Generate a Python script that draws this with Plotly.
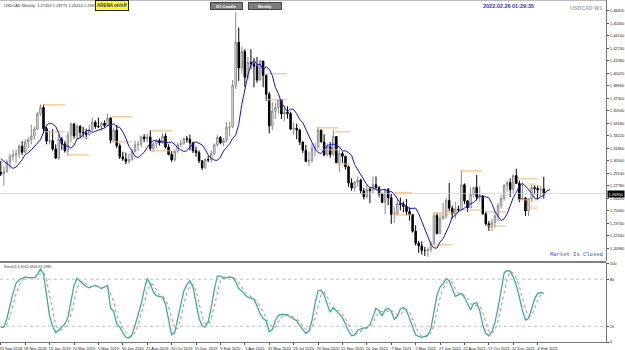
import plotly.graph_objects as go
import pandas as pd

# ---------------- data ----------------
# weekly bars; index 0 = week of 23 Sep 2018 (negative = earlier weeks, off-screen)
bar_index = list(range(-6, 179))
opens = [1.3055, 1.3075, 1.3030, 1.3055, 1.3175, 1.3035,
 1.2925, 1.2910, 1.2935, 1.3040, 1.3100, 1.3115, 1.3125, 1.3210, 1.3145, 1.3255,
 1.3280, 1.3320, 1.3395, 1.3560, 1.3630, 1.3400, 1.3265, 1.3270, 1.3180, 1.3080,
 1.3285, 1.3235, 1.3160, 1.3330, 1.3450, 1.3320, 1.3425, 1.3360, 1.3355, 1.3335,
 1.3390, 1.3470, 1.3425, 1.3420, 1.3460, 1.3435, 1.3515, 1.3275, 1.3385, 1.3215,
 1.3095, 1.3070, 1.3045, 1.3065, 1.3155, 1.3225, 1.3230, 1.3310, 1.3290, 1.3310,
 1.3185, 1.3235, 1.3270, 1.3245, 1.3320, 1.3200, 1.3120, 1.3060, 1.3155, 1.3225,
 1.3240, 1.3290, 1.3285, 1.3245, 1.3160, 1.3140, 1.3050, 1.2975, 1.3065, 1.3060,
 1.3130, 1.3225, 1.3305, 1.3245, 1.3275, 1.3415, 1.3420, 1.3870, 1.4340, 1.4060,
 1.4240, 1.3960, 1.4120, 1.4105, 1.4080, 1.3930, 1.4135, 1.3980, 1.3775, 1.3430,
 1.3590, 1.3630, 1.3715, 1.3560, 1.3580, 1.3565, 1.3395, 1.3405, 1.3385, 1.3255,
 1.3165, 1.3045, 1.3055, 1.3185, 1.3200, 1.3385, 1.3255, 1.3115, 1.3205, 1.3120,
 1.3315, 1.3030, 1.3130, 1.3100, 1.2985, 1.2810, 1.2755, 1.2820, 1.2840, 1.2725,
 1.2660, 1.2740, 1.2725, 1.2790, 1.2760, 1.2690, 1.2600, 1.2740, 1.2650, 1.2470,
 1.2475, 1.2585, 1.2575, 1.2555, 1.2500, 1.2465, 1.2285, 1.2155, 1.2125, 1.2075,
 1.2075, 1.2085, 1.2150, 1.2455, 1.2260, 1.2420, 1.2450, 1.2620, 1.2535, 1.2475,
 1.2525, 1.2520, 1.2790, 1.2615, 1.2540, 1.2685, 1.2760, 1.2655, 1.2665, 1.2475,
 1.2365, 1.2335, 1.2380, 1.2450, 1.2565, 1.2640, 1.2780, 1.2815, 1.2740, 1.2890,
 1.2805, 1.2630, 1.2645, 1.2505, 1.2640, 1.2760, 1.2750, 1.2735, 1.27459]
highs = [1.3170, 1.3110, 1.3125, 1.3225, 1.3190, 1.3045,
 1.3050, 1.2990, 1.3065, 1.3130, 1.3170, 1.3175, 1.3230, 1.3265, 1.3285, 1.3310,
 1.3445, 1.3425, 1.3580, 1.3665, 1.3665, 1.3420, 1.3380, 1.3395, 1.3230, 1.3340,
 1.3310, 1.3265, 1.3370, 1.3470, 1.3465, 1.3450, 1.3440, 1.3420, 1.3400, 1.3440,
 1.3520, 1.3490, 1.3520, 1.3475, 1.3490, 1.3565, 1.3525, 1.3410, 1.3440, 1.3240,
 1.3150, 1.3140, 1.3130, 1.3180, 1.3270, 1.3270, 1.3325, 1.3340, 1.3345, 1.3385,
 1.3260, 1.3290, 1.3295, 1.3350, 1.3350, 1.3230, 1.3160, 1.3175, 1.3250, 1.3280,
 1.3305, 1.3320, 1.3335, 1.3260, 1.3205, 1.3165, 1.3060, 1.3080, 1.3105, 1.3165,
 1.3240, 1.3330, 1.3320, 1.3300, 1.3470, 1.3475, 1.3930, 1.4667, 1.4500, 1.4295,
 1.4265, 1.4180, 1.4265, 1.4170, 1.4180, 1.4150, 1.4140, 1.3990, 1.3800, 1.3690,
 1.3685, 1.3715, 1.3715, 1.3650, 1.3645, 1.3585, 1.3470, 1.3455, 1.3400, 1.3260,
 1.3225, 1.3150, 1.3240, 1.3245, 1.3420, 1.3390, 1.3340, 1.3240, 1.3255, 1.3390,
 1.3315, 1.3175, 1.3150, 1.3105, 1.3000, 1.2860, 1.2830, 1.2880, 1.2855, 1.2755,
 1.2795, 1.2760, 1.2880, 1.2880, 1.2775, 1.2705, 1.2745, 1.2755, 1.2690, 1.2545,
 1.2630, 1.2650, 1.2610, 1.2635, 1.2545, 1.2470, 1.2350, 1.2180, 1.2175, 1.2115,
 1.2110, 1.2175, 1.2485, 1.2485, 1.2480, 1.2595, 1.2650, 1.2810, 1.2565, 1.2605,
 1.2565, 1.2949, 1.2805, 1.2620, 1.2760, 1.2770, 1.2895, 1.2775, 1.2680, 1.2500,
 1.2395, 1.2420, 1.2500, 1.2590, 1.2680, 1.2800, 1.2835, 1.2860, 1.2905, 1.2964,
 1.2835, 1.2815, 1.2655, 1.2640, 1.2795, 1.2785, 1.2780, 1.2780, 1.28775]
lows = [1.3035, 1.2990, 1.2970, 1.3050, 1.2990, 1.2885,
 1.2885, 1.2782, 1.2920, 1.2965, 1.3055, 1.3030, 1.3080, 1.3115, 1.3130, 1.3190,
 1.3230, 1.3280, 1.3385, 1.3540, 1.3350, 1.3230, 1.3230, 1.3160, 1.3070, 1.3060,
 1.3170, 1.3140, 1.3110, 1.3250, 1.3290, 1.3280, 1.3310, 1.3310, 1.3290, 1.3320,
 1.3375, 1.3400, 1.3410, 1.3375, 1.3410, 1.3430, 1.3240, 1.3265, 1.3190, 1.3070,
 1.3050, 1.3015, 1.3020, 1.3050, 1.3140, 1.3155, 1.3200, 1.3255, 1.3250, 1.3155,
 1.3150, 1.3185, 1.3215, 1.3235, 1.3185, 1.3110, 1.3040, 1.3040, 1.3135, 1.3200,
 1.3225, 1.3250, 1.3165, 1.3135, 1.3095, 1.3025, 1.2950, 1.2965, 1.3035, 1.3030,
 1.3110, 1.3200, 1.3230, 1.3210, 1.3250, 1.3315, 1.3405, 1.3830, 1.3920, 1.4000,
 1.3855, 1.3930, 1.4050, 1.3850, 1.3900, 1.3920, 1.3850, 1.3700, 1.3350, 1.3385,
 1.3505, 1.3565, 1.3505, 1.3485, 1.3510, 1.3390, 1.3335, 1.3285, 1.3220, 1.3135,
 1.3040, 1.2995, 1.3030, 1.3100, 1.3190, 1.3260, 1.3100, 1.3105, 1.3085, 1.3100,
 1.3030, 1.2930, 1.3030, 1.2955, 1.2770, 1.2725, 1.2715, 1.2770, 1.2690, 1.2630,
 1.2640, 1.2590, 1.2700, 1.2740, 1.2660, 1.2590, 1.2470, 1.2570, 1.2365, 1.2375,
 1.2460, 1.2510, 1.2490, 1.2460, 1.2400, 1.2270, 1.2130, 1.2050, 1.2030, 1.2015,
 1.2007, 1.2055, 1.2140, 1.2250, 1.2250, 1.2415, 1.2420, 1.2500, 1.2425, 1.2420,
 1.2490, 1.2505, 1.2580, 1.2495, 1.2535, 1.2660, 1.2620, 1.2605, 1.2465, 1.2345,
 1.2288, 1.2290, 1.2320, 1.2390, 1.2530, 1.2615, 1.2715, 1.2655, 1.2700, 1.2800,
 1.2600, 1.2625, 1.2451, 1.2450, 1.2605, 1.2685, 1.2635, 1.2665, 1.26410]
closes = [1.3075, 1.3030, 1.3055, 1.3175, 1.3035, 1.2925,
 1.2910, 1.2935, 1.3040, 1.3100, 1.3115, 1.3125, 1.3210, 1.3145, 1.3255, 1.3280,
 1.3320, 1.3395, 1.3560, 1.3630, 1.3400, 1.3265, 1.3270, 1.3180, 1.3080, 1.3285,
 1.3235, 1.3160, 1.3330, 1.3450, 1.3320, 1.3425, 1.3360, 1.3355, 1.3335, 1.3390,
 1.3470, 1.3425, 1.3420, 1.3460, 1.3435, 1.3515, 1.3275, 1.3385, 1.3215, 1.3095,
 1.3070, 1.3045, 1.3065, 1.3155, 1.3225, 1.3230, 1.3310, 1.3290, 1.3310, 1.3185,
 1.3235, 1.3270, 1.3245, 1.3320, 1.3200, 1.3120, 1.3060, 1.3155, 1.3225, 1.3240,
 1.3290, 1.3285, 1.3245, 1.3160, 1.3140, 1.3050, 1.2975, 1.3065, 1.3060, 1.3130,
 1.3225, 1.3305, 1.3245, 1.3275, 1.3415, 1.3420, 1.3870, 1.4340, 1.4060, 1.4240,
 1.3960, 1.4120, 1.4105, 1.4080, 1.3930, 1.4135, 1.3980, 1.3775, 1.3430, 1.3590,
 1.3630, 1.3715, 1.3560, 1.3580, 1.3565, 1.3395, 1.3405, 1.3385, 1.3255, 1.3165,
 1.3045, 1.3055, 1.3185, 1.3200, 1.3385, 1.3255, 1.3115, 1.3205, 1.3120, 1.3315,
 1.3030, 1.3130, 1.3100, 1.2985, 1.2810, 1.2755, 1.2820, 1.2840, 1.2725, 1.2660,
 1.2740, 1.2725, 1.2790, 1.2760, 1.2690, 1.2600, 1.2740, 1.2650, 1.2470, 1.2475,
 1.2585, 1.2575, 1.2555, 1.2500, 1.2465, 1.2285, 1.2155, 1.2125, 1.2075, 1.2075,
 1.2085, 1.2150, 1.2455, 1.2260, 1.2420, 1.2450, 1.2620, 1.2535, 1.2475, 1.2525,
 1.2520, 1.2790, 1.2615, 1.2540, 1.2685, 1.2760, 1.2655, 1.2665, 1.2475, 1.2365,
 1.2335, 1.2380, 1.2450, 1.2565, 1.2640, 1.2780, 1.2815, 1.2740, 1.2890, 1.2805,
 1.2630, 1.2645, 1.2505, 1.2640, 1.2760, 1.2750, 1.2735, 1.2740, 1.26950]

# Stochastic main line, bars 0..178
stoch_main = [19, 19, 30, 47, 62, 75, 79, 81, 83, 82, 82, 82, 86, 93, 87, 57, 33, 20, 12, 15,
 19, 23, 31, 51, 72, 81, 77, 74, 71, 69, 71, 72, 70, 68, 70, 72, 43, 39, 23, 19,
 12, 6, 5, 9, 21, 34, 48, 66, 81, 74, 64, 59, 58, 57, 48, 29, 9, 12, 30, 50,
 65, 73, 78, 70, 48, 30, 21, 19, 26, 44, 67, 84, 84, 81, 82, 83, 82, 77, 68, 65,
 60, 57, 56, 54, 46, 36, 30, 27, 13, 16, 27, 34, 35, 35, 34, 32, 30, 27, 21, 16,
 11, 14, 27, 49, 65, 66, 60, 48, 38, 44, 40, 36, 31, 23, 14, 8, 9, 15, 17, 18,
 18, 22, 32, 43, 40, 33, 41, 43, 39, 29, 33, 42, 44, 40, 30, 18, 9, 7, 6, 7,
 9, 17, 38, 60, 70, 74, 81, 78, 68, 58, 60, 62, 57, 49, 41, 49, 50, 40, 22, 11,
 8, 13, 25, 43, 64, 88, 91, 90, 83, 72, 57, 40, 28, 30, 42, 55, 62, 63, 62]

# Orange period high/low levels (start bar, end bar, price)
lvl_start = [13.8, 14.5, 22.0, 22.0, 35.8, 36.5, 49.0, 49.0, 86.6, 86.6, 103.7, 109.6,
             103.7, 109.6, 128.3, 128.3, 141.7, 141.7, 150.6, 150.6, 158.8, 158.8, 169.3, 169.3]
lvl_end = [21.0, 21.0, 28.9, 28.9, 43.0, 43.0, 56.1, 56.1, 93.8, 93.8, 110.6, 114.5,
           110.6, 114.5, 134.8, 134.8, 148.3, 148.3, 157.8, 157.8, 165.6, 165.6, 176.1, 176.1]
lvl_price = [1.3659, 1.3366, 1.3300, 1.3115, 1.3529, 1.3257, 1.3376, 1.3159, 1.3997, 1.3714,
             1.3409, 1.3366, 1.3170, 1.3017, 1.2702, 1.2462, 1.2484, 1.2136, 1.2941, 1.2517,
             1.2495, 1.2343, 1.2854, 1.2626]

date_tick_bars = [0, 8, 16, 24, 32, 40, 48, 56, 64, 72, 80, 88, 96, 104, 112, 120, 128, 136, 144,
                  152, 160, 168, 176]
date_tick_labels = ["23 Sep 2018", "18 Nov 2018", "13 Jan 2019", "10 Mar 2019", "5 May 2019",
                    "30 Jun 2019", "25 Aug 2019", "20 Oct 2019", "15 Dec 2019", "9 Feb 2020",
                    "5 Apr 2020", "31 May 2020", "26 Jul 2020", "20 Sep 2020", "15 Nov 2020",
                    "10 Jan 2021", "7 Mar 2021", "2 May 2021", "27 Jun 2021", "22 Aug 2021",
                    "17 Oct 2021", "12 Dec 2021", "6 Feb 2022"]
price_ticks = [1.46820, 1.45460, 1.44100, 1.42740, 1.41380, 1.40020, 1.38660, 1.37300, 1.35940,
               1.34580, 1.33220, 1.31860, 1.30500, 1.29140, 1.27780, 1.26420, 1.25060, 1.23700,
               1.22340, 1.20980]
stoch_ticks = [0, 20, 80, 100]

# ---------------- derived indicators ----------------
df = pd.DataFrame({"bar": bar_index, "o": opens, "h": highs, "l": lows, "c": closes})
ma_period, ma_shift = 5, 2
ma_vals = df["c"].rolling(ma_period).mean()
ma_x = [b + ma_shift for b in bar_index]

st = pd.Series(stoch_main)
stoch_signal = st.rolling(3, min_periods=1).mean()
stoch_x = list(range(len(stoch_main)))

# ---------------- figure ----------------
W, H = 625, 350
XR = 606 / W
fig = go.Figure()

fig.add_trace(go.Candlestick(
    x=df["bar"], open=df["o"], high=df["h"], low=df["l"], close=df["c"],
    increasing=dict(line=dict(color="#8a8a8a", width=1), fillcolor="#ffffff"),
    decreasing=dict(line=dict(color="#000000", width=1), fillcolor="#000000"),
    whiskerwidth=0, xaxis="x", yaxis="y", showlegend=False, hoverinfo="skip"))

lx, ly = [], []
for s, e, p in zip(lvl_start, lvl_end, lvl_price):
    lx += [s, e, None]
    ly += [p, p, None]
fig.add_trace(go.Scatter(x=lx, y=ly, mode="lines", line=dict(color="#FFB060", width=1),
                         xaxis="x", yaxis="y", showlegend=False, hoverinfo="skip"))

fig.add_trace(go.Scatter(x=ma_x, y=ma_vals, mode="lines", line=dict(color="#1010F0", width=1),
                         xaxis="x", yaxis="y", showlegend=False, hoverinfo="skip"))

fig.add_trace(go.Scatter(x=stoch_x, y=stoch_signal, mode="lines",
                         line=dict(color="#FF6A6A", width=1, dash="dot"),
                         xaxis="x2", yaxis="y2", showlegend=False, hoverinfo="skip"))
fig.add_trace(go.Scatter(x=stoch_x, y=st, mode="lines", line=dict(color="#2BB3A8", width=1.3),
                         xaxis="x2", yaxis="y2", showlegend=False, hoverinfo="skip"))

xr = [-0.26, 198.4]
tickfont = dict(family="Liberation Sans, Arial", size=4, color="#222")
fig.update_layout(
    width=W, height=H, autosize=False,
    margin=dict(l=0, r=0, t=0, b=0),
    paper_bgcolor="white", plot_bgcolor="white",
    xaxis=dict(domain=[0, XR], range=xr, anchor="y", showticklabels=False, showgrid=False,
               zeroline=False, rangeslider=dict(visible=False), showline=False, automargin=False),
    yaxis=dict(domain=[1 - 261 / H, 1], range=[1.1961, 1.47997], side="right", anchor="x",
               tickvals=price_ticks, ticktext=[f"{v:.5f}" for v in price_ticks],
               ticks="outside", ticklen=2, tickcolor="#555", tickfont=tickfont,
               showgrid=False, zeroline=False, showline=True, linecolor="#777", linewidth=1,
               automargin=False),
    xaxis2=dict(domain=[0, XR], range=xr, anchor="y2", matches="x",
                tickvals=date_tick_bars, ticktext=date_tick_labels, ticks="outside", ticklen=2,
                tickangle=0, tickcolor="#555", tickfont=tickfont, ticklabelshift=10,
                ticklabelstandoff=0, ticklabeloverflow="allow", showgrid=False,
                zeroline=False, showline=True, linecolor="#777", linewidth=1, automargin=False),
    yaxis2=dict(domain=[1 - 342 / H, 1 - 263 / H], range=[0, 100.6], side="right", anchor="x2",
                tickvals=stoch_ticks, ticktext=[str(v) for v in stoch_ticks],
                ticks="outside", ticklen=2, tickcolor="#555", tickfont=tickfont,
                showgrid=False, zeroline=False, showline=True, linecolor="#777", linewidth=1,
                automargin=False),
)

# reference / border lines
fig.add_shape(type="line", xref="x2", yref="y2", x0=xr[0], x1=xr[1], y0=80, y1=80,
              line=dict(color="#b0b0b0", width=0.8, dash="dot"))
fig.add_shape(type="line", xref="x2", yref="y2", x0=xr[0], x1=xr[1], y0=20, y1=20,
              line=dict(color="#b0b0b0", width=0.8, dash="dot"))
fig.add_shape(type="line", xref="x", yref="y", x0=xr[0], x1=xr[1], y0=closes[-1], y1=closes[-1],
              line=dict(color="#cfcfcf", width=0.7))
fig.add_shape(type="line", xref="paper", yref="paper", x0=0, x1=XR, y0=1 - 262 / H, y1=1 - 262 / H,
              line=dict(color="#555", width=1.6))
fig.add_shape(type="line", xref="paper", yref="paper", x0=0, x1=XR, y0=1 - 0.5 / H, y1=1 - 0.5 / H,
              line=dict(color="#bbb", width=1))

def px_x(v):
    return v / W

def px_y(v):
    return 1 - v / H

ann = []
ann.append(dict(x=px_x(2), y=px_y(5.5), xref="paper", yref="paper", xanchor="left", yanchor="middle",
                text="USDCAD,Weekly  1.27459 1.28775 1.26410 1.26950", showarrow=False,
                font=dict(family="Liberation Sans, Arial", size=4, color="#333")))
ann.append(dict(x=px_x(112), y=px_y(6), xref="paper", yref="paper", xanchor="center", yanchor="middle",
                text="<b>ARENA on/off</b>", showarrow=False, bgcolor="#FFFF00", bordercolor="#222",
                borderwidth=1, borderpad=1, width=30, height=7,
                font=dict(family="Liberation Sans, Arial", size=4.5, color="#1515C0")))
ann.append(dict(x=px_x(226.5), y=px_y(6), xref="paper", yref="paper", xanchor="center", yanchor="middle",
                text="<b>D1 Candle</b>", showarrow=False, bgcolor="#7d7d7d", bordercolor="#444",
                borderwidth=1, borderpad=0, width=31, height=6,
                font=dict(family="Liberation Sans, Arial", size=4, color="white")))
ann.append(dict(x=px_x(265), y=px_y(6), xref="paper", yref="paper", xanchor="center", yanchor="middle",
                text="<b>Weekly</b>", showarrow=False, bgcolor="#7d7d7d", bordercolor="#444",
                borderwidth=1, borderpad=0, width=32, height=6,
                font=dict(family="Liberation Sans, Arial", size=4, color="white")))
ann.append(dict(x=px_x(508), y=px_y(6), xref="paper", yref="paper", xanchor="center", yanchor="middle",
                text="<b>2022.02.26 01:29:35</b>", showarrow=False,
                font=dict(family="Liberation Sans, Arial", size=5.5, color="#3232D2")))
ann.append(dict(x=px_x(604), y=px_y(8), xref="paper", yref="paper", xanchor="right", yanchor="middle",
                text="<b>USDCAD W1</b>", showarrow=False,
                font=dict(family="Liberation Sans, Arial", size=5.3, color="#A5A5A5")))
ann.append(dict(x=px_x(548), y=px_y(254), xref="paper", yref="paper", xanchor="left", yanchor="middle",
                text="Market Is Closed", showarrow=False,
                font=dict(family="Liberation Mono, Courier New", size=5.5, color="#4646FF")))
ann.append(dict(x=px_x(2), y=px_y(267), xref="paper", yref="paper", xanchor="left", yanchor="middle",
                text="Stoch(5,3,3) 62.0944 61.0985", showarrow=False,
                font=dict(family="Liberation Sans, Arial", size=3.6, color="#333")))
ann.append(dict(x=XR + 1 / W, y=closes[-1], xref="paper", yref="y", xanchor="left", yanchor="middle",
                text=f"{closes[-1]:.5f}", showarrow=False, bgcolor="#000", borderpad=0.5,
                font=dict(family="Liberation Sans, Arial", size=4, color="white")))
ann.append(dict(x=lvl_end[-1] - 4.9, y=1.2787, xref="x", yref="y", xanchor="left", yanchor="middle",
                text="1.2787", showarrow=False,
                font=dict(family="Liberation Sans, Arial", size=3.6, color="#FFA040")))
ann.append(dict(x=lvl_end[-1] - 4.6, y=1.2540, xref="x", yref="y", xanchor="left", yanchor="middle",
                text="1.2554", showarrow=False,
                font=dict(family="Liberation Sans, Arial", size=3.6, color="#FFA040")))
fig.update_layout(annotations=ann)

fig.write_html("out.html")
